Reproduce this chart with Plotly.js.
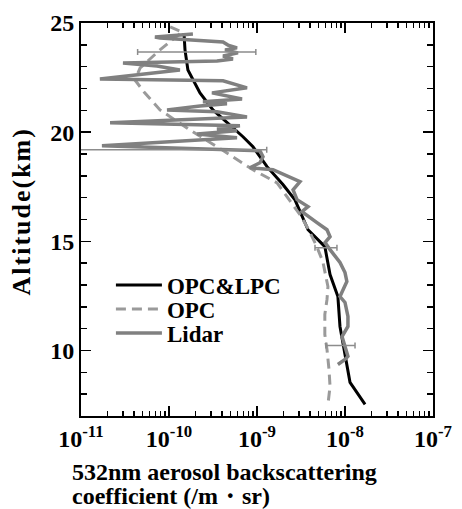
<!DOCTYPE html>
<html><head><meta charset="utf-8">
<script src="https://cdn.plot.ly/plotly-3.0.1.min.js"></script>
<style>html,body{margin:0;padding:0;background:#fff}</style>
</head><body><div id="chart" style="width:462px;height:509px"></div>
<script>
// OPC&LPC (black solid)
const opcLpcAlt = [24.54, 23.77, 22.85, 22.39, 21.8, 21.02, 20.34, 19.79, 19.33, 18.42, 17.6, 16.9, 15.53, 14.76, 13.48, 12.47, 11.1, 9.73, 8.54, 7.53];
const opcLpcVal = [1.48e-10, 1.52e-10, 1.64e-10, 1.87e-10, 2.25e-10, 3.16e-10, 4.93e-10, 6.93e-10, 9.0e-10, 1.3e-9, 1.97e-9, 2.7e-9, 3.8e-9, 5.9e-9, 6.76e-9, 8.3e-9, 8.77e-9, 1.0e-8, 1.14e-8, 1.69e-8];
// OPC (gray dashed)
const opcAlt = [24.82, 24.59, 23.77, 22.94, 22.39, 21.8, 21.02, 20.1, 19.19, 18.28, 17.68, 16.22, 15.67, 14.85, 14.07, 12.93, 12.33, 11.65, 10.73, 10.05, 9.13, 8.36, 7.53];
const opcVal = [1.03e-10, 1.41e-10, 7.9e-11, 4.7e-11, 4.1e-11, 5.3e-11, 7.9e-11, 1.73e-10, 4.0e-10, 9.0e-10, 1.69e-9, 3.08e-9, 3.7e-9, 4.68e-9, 5.6e-9, 6.4e-9, 6.24e-9, 5.9e-9, 5.9e-9, 6.24e-9, 6.58e-9, 6.76e-9, 6.4e-9];
// Lidar (gray solid)
const lidarAlt = [24.50, 24.36, 24.31, 24.13, 23.99, 23.86, 23.77, 23.63, 23.49, 23.35, 23.26, 23.17, 23.03, 22.85, 22.44, 22.35, 22.03, 21.80, 21.52, 21.39, 21.30, 21.20, 21.02, 20.93, 20.70, 20.43, 20.29, 20.15, 20.06, 19.92, 19.74, 19.38, 19.15, 18.87, 18.60, 18.37, 18.28, 17.73, 17.36, 16.91, 16.59, 16.36, 15.86, 15.53, 15.21, 14.94, 14.62, 14.03, 13.57, 13.16, 12.47, 12.20, 11.56, 11.10, 10.64, 10.19, 9.73, 9.59, 9.36];
const lidarVal = [1.87e-10, 6.93e-11, 7.9e-11, 4.11e-10, 4.68e-10, 5.93e-10, 4.33e-10, 6.08e-10, 4.11e-10, 5.33e-10, 3.51e-10, 3.0e-11, 7.3e-11, 1.33e-10, 1.64e-11, 4.11e-10, 7.7e-10, 3.08e-10, 6.76e-10, 2.43e-10, 4.56e-10, 2.25e-10, 9.5e-11, 3.51e-10, 7.7e-10, 2.14e-11, 6.4e-10, 3.51e-10, 5.93e-10, 2.08e-10, 5.93e-10, 1.73e-11, 1.08e-9, 1.17e-9, 1.08e-9, 8.3e-10, 1.52e-9, 3.08e-9, 2.57e-9, 2.85e-9, 3.8e-9, 3.24e-9, 4.8e-9, 6.24e-9, 6.76e-9, 5.93e-9, 6.76e-9, 8.77e-9, 1.0e-8, 1.05e-8, 8.77e-9, 1.0e-8, 1.08e-8, 1.08e-8, 9.25e-9, 1.0e-8, 1.08e-8, 1.0e-8, 8.3e-9];
// Lidar error bars
const errAlt = [23.67, 19.19, 14.71, 10.23];
const errCenter = [2.1e-10, 1.0e-9, 6.1e-9, 8.9e-9];
const errLow = [4.4e-11, 5e-12, 4.56e-9, 6.08e-9];
const errHigh = [9.7e-10, 1.29e-9, 8.1e-9, 1.3e-8];
// tick labels
const xTickVals = [1e-11, 1e-10, 1e-9, 1e-8, 1e-7];
const xTickText = ['10<sup>-11</sup>', '10<sup>-10</sup>', '10<sup>-9</sup>', '10<sup>-8</sup>', '10<sup>-7</sup>'];
const yTickVals = [10, 15, 20, 25];

const FONT = 'Liberation Serif, Times New Roman, serif';
const traces = [
  {x: opcLpcVal, y: opcLpcAlt, name: 'OPC&LPC', mode: 'lines', line: {color: '#000000', width: 3}},
  {x: opcVal, y: opcAlt, name: 'OPC', mode: 'lines', line: {color: '#9a9a9a', width: 3, dash: '10px,6px'}},
  {x: lidarVal, y: lidarAlt, name: 'Lidar', mode: 'lines', line: {color: '#808080', width: 3.5}},
  {x: errCenter, y: errAlt, mode: 'markers', showlegend: false, hoverinfo: 'skip',
   marker: {size: 1, opacity: 0},
   error_x: {type: 'data', symmetric: false,
     array: errHigh.map((h, i) => h - errCenter[i]),
     arrayminus: errLow.map((l, i) => errCenter[i] - l),
     color: '#8c8c8c', thickness: 1.5, width: 3}}
];
const axisCommon = {
  showline: true, linecolor: '#000', linewidth: 2, mirror: 'ticks',
  ticks: 'inside', ticklen: 10, tickwidth: 1.5, tickcolor: '#000',
  showgrid: false, zeroline: false, automargin: false,
  tickfont: {family: FONT, size: 24, color: '#000', weight: 'bold'}
};
const layout = {
  width: 462, height: 509,
  margin: {l: 81, r: 29, t: 23, b: 93},
  paper_bgcolor: '#fff', plot_bgcolor: '#fff',
  xaxis: Object.assign({}, axisCommon, {
    type: 'log', range: [-11, -7], tickvals: xTickVals, ticktext: xTickText,
    minor: {ticks: 'inside', ticklen: 5, tickwidth: 1.5, tickcolor: '#000', dtick: 'D1', showgrid: false}
  }),
  yaxis: Object.assign({}, axisCommon, {
    range: [7, 25], tickvals: yTickVals,
    minor: {ticks: 'inside', ticklen: 6, tickwidth: 1.5, tickcolor: '#000', dtick: 1, tick0: 0, showgrid: false}
  }),
  showlegend: true,
  legend: {x: 0.085, y: 0.272, xanchor: 'left', yanchor: 'middle', bgcolor: 'rgba(0,0,0,0)',
    itemwidth: 46,
    font: {family: FONT, size: 23, color: '#000', weight: 'bold'}, tracegroupgap: 0},
  annotations: [
    {text: 'Altitude(km)', textangle: -90, xref: 'paper', yref: 'paper',
     x: -0.168, y: 0.52, xanchor: 'center', yanchor: 'middle', showarrow: false,
     font: {family: FONT, size: 26, color: '#000', weight: 'bold'}},
    {text: '532nm aerosol backscattering', xref: 'paper', yref: 'paper',
     x: -0.031, y: -0.142, xanchor: 'left', yanchor: 'middle', showarrow: false,
     font: {family: FONT, size: 24, color: '#000', weight: 'bold'}},
    {text: 'coefficient (/m・sr)', xref: 'paper', yref: 'paper',
     x: -0.031, y: -0.204, xanchor: 'left', yanchor: 'middle', showarrow: false,
     font: {family: FONT, size: 24, color: '#000', weight: 'bold'}}
  ]
};
Plotly.newPlot('chart', traces, layout, {displayModeBar: false, staticPlot: true}).then(gd => {
  // tighten legend rows like the reference
  const items = Array.from(gd.querySelectorAll('.legend .traces'));
  const pos = items.map(el => {
    const m = /translate\(\s*([-\d.]+)[ ,]+([-\d.]+)\s*\)/.exec(el.getAttribute('transform') || '');
    return m ? [parseFloat(m[1]), parseFloat(m[2])] : null;
  });
  if (pos.length === 3 && pos.every(p => p)) {
    const mid = pos[1][1];
    items.forEach((el, i) => el.setAttribute('transform', `translate(${pos[i][0]},${mid + (i - 1) * 24})`));
  }
  // slightly spaced y-axis title as in the reference
  const ann = gd.querySelector('.annotation .annotation-text');
  if (ann) ann.style.letterSpacing = '2px';
});
</script>
</body></html>
